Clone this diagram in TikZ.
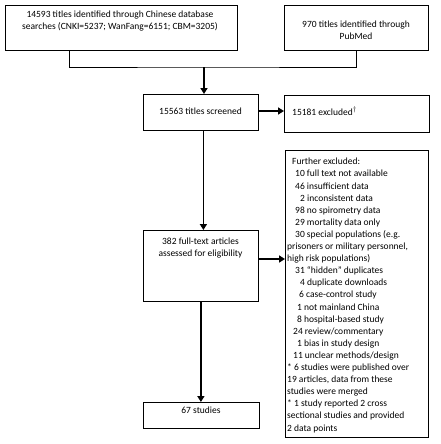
\documentclass[tikz,border=0pt]{standalone}
\usepackage{fontspec}
\setmainfont{Carlito}
\usetikzlibrary{arrows.meta,calc}
\begin{document}
\begin{tikzpicture}[x=1pt,y=-1pt,
  box/.style={draw=black, line width=0.8pt, inner sep=0pt, anchor=north west},
  txt/.style={inner sep=0pt, font=\fontsize{9.5}{12.1}\selectfont},
  joinline/.style={draw=black, line width=0.9pt},
  arr/.style={draw=black, line width=1.7pt, -{Triangle[length=6pt,width=7pt]}}]
\useasboundingbox[fill=white] (0,0) rectangle (440,444);
% boxes
\node[box, minimum width=232pt, minimum height=45pt] (b1) at (5,5) {};
\node[box, minimum width=144pt, minimum height=45pt] (b2) at (284,5) {};
\node[box, minimum width=115pt, minimum height=36pt] (b3) at (143,94) {};
\node[box, minimum width=145pt, minimum height=37pt] (b4) at (284,95) {};
\node[box, minimum width=115pt, minimum height=71pt] (b5) at (143,230) {};
\node[box, minimum width=143pt, minimum height=287pt] (b6) at (285,150) {};
\node[box, minimum width=116pt, minimum height=26pt] (b7) at (143,402) {};
% texts
\node[txt, align=center, anchor=north] (t1) at (120,11) {14593 titles identified through Chinese database\\searches (CNKI=5237; WanFang=6151; CBM=3205)};
\node[txt, align=center, anchor=north] (t2) at (356,21) {970 titles identified through\\PubMed};
\node[txt, anchor=center] (t3) at (200.5,111) {15563 titles screened};
\node[txt, anchor=west] (t4) at (292,111) {15181 excluded$^{\dagger}$};
\node[txt, align=center, anchor=north] (t5) at (200.5,238) {382 full-text articles\\assessed for eligibility};
\node[txt, anchor=center] (t7) at (201,410) {67 studies};
\node[txt, align=left, anchor=north west] (t6) at (287,158) {%
\hspace*{5pt}Further excluded:\\
\hspace*{8pt}10 full text not available\\
\hspace*{8pt}46 insufficient data\\
\hspace*{13pt}2 inconsistent data\\
\hspace*{8pt}98 no spirometry data\\
\hspace*{8pt}29 mortality data only\\
\hspace*{8pt}30 special populations (e.g.\\
prisoners or military personnel,\\
high risk populations)\\
\hspace*{8pt}31 “hidden” duplicates\\
\hspace*{13pt}4 duplicate downloads\\
\hspace*{12pt}6 case-control study\\
\hspace*{10pt}1 not mainland China\\
\hspace*{10pt}8 hospital-based study\\
\hspace*{6pt}24 review/commentary\\
\hspace*{10pt}1 bias in study design\\
\hspace*{6pt}11 unclear methods/design\\
* 6 studies were published over\\
19 articles, data from these\\
studies were merged\\
* 1 study reported 2 cross\\
sectional studies and provided\\
2 data points};
% connectors
\coordinate (j) at (204,67);
\draw[joinline] ([xshift=64pt]b1.south west) |- (j) -| (b2.south);
\draw[arr] (j) -- (j |- b3.north);
\draw[arr] (b3.east |- t3) -- (b4.west |- t3);
\draw[arr] ([xshift=2.5pt]b3.south) -- ([xshift=2.5pt]b3.south |- b5.north);
\draw[arr] (b5.east |- 0,259) -- (b6.west |- 0,259);
\draw[arr] (b5.south) -- (b5.south |- b7.north);
\end{tikzpicture}
\end{document}
